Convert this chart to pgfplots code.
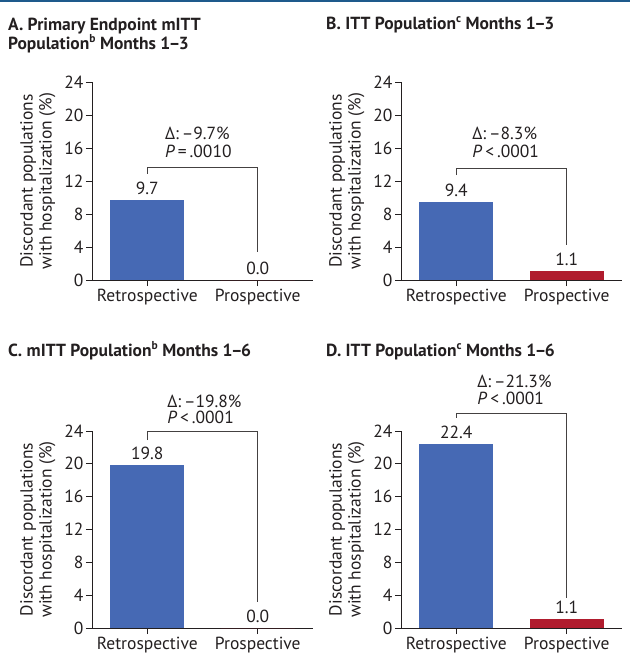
\documentclass[border=0pt]{standalone}
\usepackage{fontspec}
\setmainfont{PT Sans}
\usepackage{pgfplots}
\pgfplotsset{compat=1.18}
\definecolor{txt}{HTML}{231F20}
\definecolor{barblue}{HTML}{4669B4}
\definecolor{barred}{HTML}{B01C2E}
\definecolor{topline}{HTML}{1E5A8C}
\newcommand{\fs}{\fontsize{17.5}{19}\selectfont}
\newcommand{\sus}[1]{\raisebox{0.38em}{\fontsize{11.5}{12}\selectfont #1}}
\newcommand{\nd}{\kern-1.5pt–\kern-1.5pt}
\pgfplotsset{panel/.style={
  scale only axis, width=221pt, height=198pt,
  anchor=south west,
  xmin=-0.5, xmax=1.5, ymin=0, ymax=24, enlargelimits=false,
  ytick={0,4,...,24}, xtick={0,1}, xticklabels={Retrospective,Prospective},
  axis x line=bottom, axis y line=left,
  axis line style={-, line width=0.8pt, txt},
  tick align=outside, major tick length=6pt,
  tick style={line width=0.8pt, txt},
  ybar, bar width=74pt, bar shift=0pt,
  clip=false,
  tick label style={font=\fs, text=txt},
  /pgf/number format/assume math mode=true,
  yticklabel style={xshift=1pt},
  ylabel={Discordant populations\\with hospitalization (\%)},
  ylabel style={align=center, font=\fs, text=txt, yshift=2pt},
  nodes near coords,
  every node near coord/.append style={font=\fs, text=txt, yshift=2pt,
    /pgf/number format/.cd, fixed, fixed zerofill, precision=1, assume math mode=true},
}}
\tikzset{br/.style={line width=0.8pt, draw=txt!85}}
\begin{document}
\begin{tikzpicture}[x=1pt,y=1pt]
\path[use as bounding box] (0pt,0pt) rectangle (630pt,-670pt);
\fill[topline] (0pt,0pt) rectangle (630pt,-2pt);
% titles
\node[anchor=base west, inner sep=0pt, font=\fs\bfseries, text=txt] at (8pt,-30pt) {A. Primary Endpoint mITT};
\node[anchor=base west, inner sep=0pt, font=\fs\bfseries, text=txt] at (8pt,-49pt) {Population\sus{b} Months 1\nd3};
\node[anchor=base west, inner sep=0pt, font=\fs\bfseries, text=txt] at (326pt,-29pt) {B. ITT Population\sus{c} Months 1\nd3};
\node[anchor=base west, inner sep=0pt, font=\fs\bfseries, text=txt] at (8pt,-356pt) {C. mITT Population\sus{b} Months 1\nd6};
\node[anchor=base west, inner sep=0pt, font=\fs\bfseries, text=txt] at (326pt,-356pt) {D. ITT Population\sus{c} Months 1\nd6};

% A
\begin{axis}[panel, at={(92pt,-280pt)}]
\addplot[fill=barblue, draw=none] coordinates {(0,9.7)};
\addplot[fill=barred, draw=none] coordinates {(1,0.0)};
\draw[br] (axis cs:0,12.9) |- (axis cs:1,13.6) -- (axis cs:1,3.4);
\node[anchor=base west, inner sep=0pt, font=\fs, text=txt] at (axis cs:0.16,17.0) {Δ:\,–9.7\%};
\node[anchor=base west, inner sep=0pt, font=\fs, text=txt] at (axis cs:0.16,14.8) {\textit{P}\,=\,.0010};
\end{axis}

% B
\begin{axis}[panel, at={(401pt,-280pt)}]
\addplot[fill=barblue, draw=none] coordinates {(0,9.4)};
\addplot[fill=barred, draw=none] coordinates {(1,1.1)};
\draw[br] (axis cs:0,12.7) |- (axis cs:1,13.5) -- (axis cs:1,4.3);
\node[anchor=base west, inner sep=0pt, font=\fs, text=txt] at (axis cs:0.145,17.0) {Δ:\,–8.3\%};
\node[anchor=base west, inner sep=0pt, font=\fs, text=txt] at (axis cs:0.145,14.8) {\textit{P}\,<\,.0001};
\end{axis}

% C
\begin{axis}[panel, at={(92pt,-628pt)}, height=197pt]
\addplot[fill=barblue, draw=none] coordinates {(0,19.8)};
\addplot[fill=barred, draw=none] coordinates {(1,0.0)};
\draw[br] (axis cs:0,22.9) |- (axis cs:1,24.0) -- (axis cs:1,3.2);
\node[anchor=base west, inner sep=0pt, font=\fs, text=txt] at (axis cs:0.18,26.9) {Δ:\,–19.8\%};
\node[anchor=base west, inner sep=0pt, font=\fs, text=txt] at (axis cs:0.18,24.9) {\textit{P}\,<\,.0001};
\end{axis}

% D
\begin{axis}[panel, at={(401pt,-628pt)}, height=197pt]
\addplot[fill=barblue, draw=none] coordinates {(0,22.4)};
\addplot[fill=barred, draw=none] coordinates {(1,1.1)};
\draw[br] (axis cs:0,25.6) |- (axis cs:1,26.2) -- (axis cs:1,3.6);
\node[anchor=base west, inner sep=0pt, font=\fs, text=txt] at (axis cs:0.19,29.3) {Δ:\,–21.3\%};
\node[anchor=base west, inner sep=0pt, font=\fs, text=txt] at (axis cs:0.19,27.2) {\textit{P}\,<\,.0001};
\end{axis}
\end{tikzpicture}
\end{document}
